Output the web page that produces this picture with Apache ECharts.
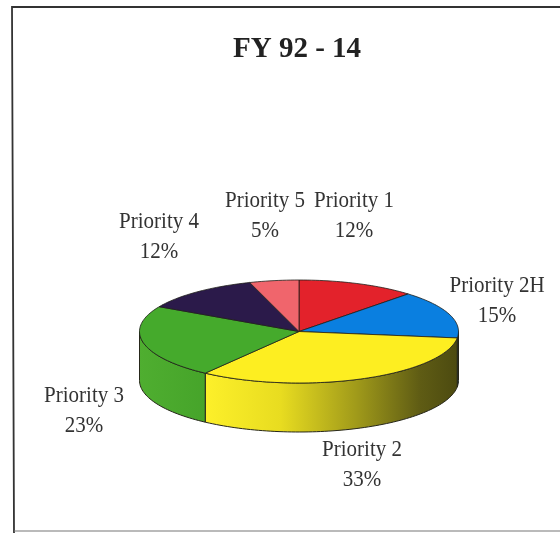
<!DOCTYPE html>
<html>
<head>
<meta charset="utf-8">
<style>html,body{margin:0;padding:0;background:#fff}#c{width:560px;height:533px}</style>
<script src="https://cdn.jsdelivr.net/npm/echarts@6/dist/echarts.min.js"></script>
</head>
<body>
<div id="c"></div>
<script>
const categories = ['Priority 1', 'Priority 2H', 'Priority 2', 'Priority 3', 'Priority 4', 'Priority 5'];
const shares = [12, 15, 33, 23, 12, 5];
const titleText = 'FY 92 - 14';

const topColors = ['#e3222b', '#0a7fe0', '#fdee21', '#45aa2c', '#2b1a4a', '#f0656c'];
const wallStops = [
  [[0, '#a01a20'], [1, '#a01a20']],
  [[0, '#0a5aa0'], [1, '#0a5aa0']],
  [[0, '#fdf02a'], [0.3, '#e8dc20'], [0.6, '#a09a1a'], [0.85, '#5f5c14'], [1, '#4c4a10']],
  [[0, '#4fae30'], [1, '#46a42a']],
  [[0, '#1d1233'], [1, '#1d1233']],
  [[0, '#b04a50'], [1, '#b04a50']]
];
const labelAt = [[354, 216], [497, 301], [362, 465], [84, 411], [159, 237], [265, 216]];

const cx = 299, cy = 331.5, rx = 159.5, ry = 51.5, depth = 49, STEP = 1.5;
const total = shares.reduce((a, b) => a + b, 0);
const pt = (deg, dy) => [cx + rx * Math.sin(deg * Math.PI / 180), cy - ry * Math.cos(deg * Math.PI / 180) + (dy || 0)];
const arc = (a, b, dy) => {
  const p = [];
  for (let d = a; d < b; d += STEP) p.push(pt(d, dy));
  p.push(pt(b, dy));
  return p;
};

function renderSlice(params, api) {
  const i = params.dataIndex;
  const before = shares.slice(0, i).reduce((a, b) => a + b, 0);
  const a0 = before / total * 360, a1 = a0 + api.value(1) / total * 360;
  const children = [];
  const w0 = Math.max(a0, 90), w1 = Math.min(a1, 270);
  if (w1 > w0) {
    const top = arc(w0, w1, 0), bottom = arc(w0, w1, depth).reverse();
    children.push({
      type: 'polygon', z2: 1,
      shape: { points: top.concat(bottom) },
      style: {
        fill: new echarts.graphic.LinearGradient(0, 0, 1, 0,
          wallStops[i].map(s => ({ offset: s[0], color: s[1] }))),
        stroke: '#26261a', lineWidth: 1
      }
    });
  }
  children.push({
    type: 'polygon', z2: 2,
    shape: { points: [[cx, cy]].concat(arc(a0, a1, 0)) },
    style: { fill: topColors[i], stroke: '#20201a', lineWidth: 0.8 }
  });
  children.push({
    type: 'text', z2: 3,
    x: labelAt[i][0], y: labelAt[i][1], scaleX: 0.875,
    style: {
      text: categories[i] + '\n' + api.value(1) + '%',
      fill: '#333', font: '24px "Liberation Serif"',
      align: 'center', verticalAlign: 'middle', lineHeight: 30
    }
  });
  return { type: 'group', children };
}

const chart = echarts.init(document.getElementById('c'), null, { renderer: 'canvas' });
chart.setOption({
  animation: false,
  backgroundColor: '#fff',
  title: {
    text: titleText, left: 233, top: 35, padding: 0,
    textStyle: { fontFamily: 'Liberation Serif', fontWeight: 'bold', fontSize: 29, color: '#222' }
  },
  graphic: [
    { type: 'polyline', silent: true, shape: { points: [[560, 7], [12, 7], [14, 533]] },
      style: { fill: null, stroke: '#333', lineWidth: 1.8 } },
    { type: 'line', silent: true, shape: { x1: 14, y1: 531, x2: 560, y2: 531 },
      style: { stroke: '#777', lineWidth: 1.2 } }
  ],
  xAxis: { show: false }, yAxis: { show: false },
  series: [{
    type: 'custom',
    coordinateSystem: 'none',
    renderItem: renderSlice,
    data: categories.map((n, i) => ({ name: n, value: [i, shares[i]] }))
  }]
});
</script>
</body>
</html>
